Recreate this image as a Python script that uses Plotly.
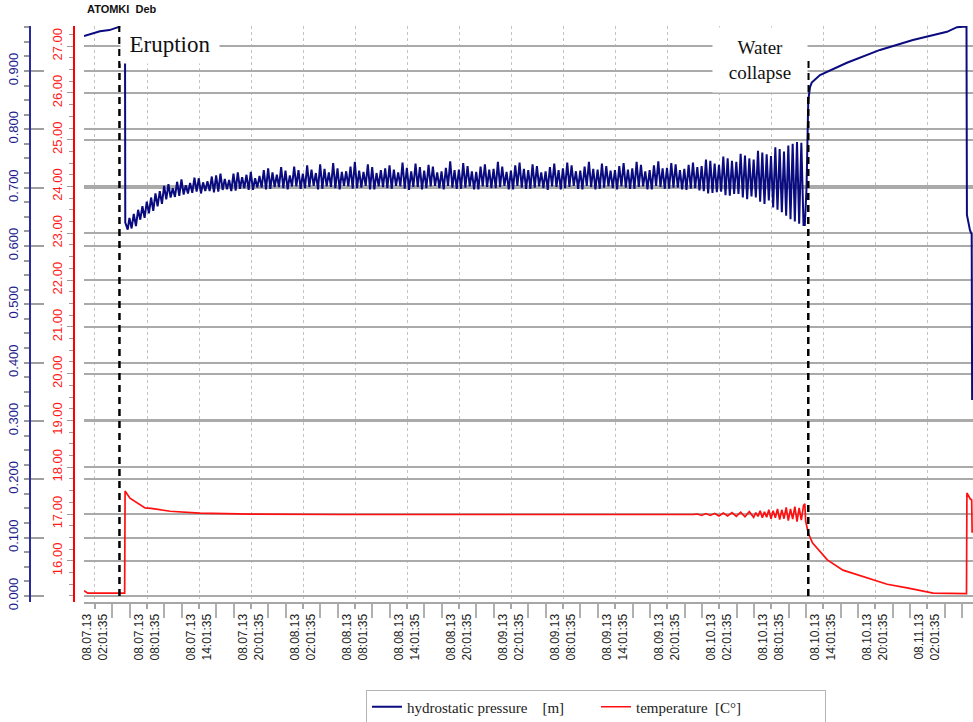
import pandas as pd
import plotly.graph_objects as go

BASE = pd.Timestamp("2013-08-07 00:00:00")


def ts(hours):
    return [(BASE + pd.Timedelta(hours=h)).strftime("%Y-%m-%d %H:%M:%S") for h in hours]


# ---------------- hydrostatic pressure [m] (hours after 2013-08-07 00:00) ----------------
p_pre_t = [0.76, 1.5, 2.6, 3.7, 4.7, 5.40, 5.49, 5.52, 5.8]
p_pre_v = [0.960, 0.963, 0.968, 0.970, 0.975, 0.976, 0.976, 0.640, 0.628]

# noisy plateau, four read extremes per hour: peak (h), trough (h+.25), peak (h+.5), trough (h+.75)
p_noise_hours = list(range(6, 84))
p_noise_hi_a = [
    0.648, 0.662, 0.676, 0.690, 0.703, 0.699, 0.714, 0.708, 0.716, 0.711,
    0.721, 0.715, 0.724, 0.718, 0.727, 0.720, 0.733, 0.722, 0.729, 0.736,
    0.724, 0.731, 0.740, 0.726, 0.733, 0.728, 0.744, 0.727, 0.735, 0.730,
    0.738, 0.726, 0.734, 0.741, 0.729, 0.736, 0.728, 0.745, 0.731, 0.737,
    0.727, 0.740, 0.732, 0.736, 0.729, 0.743, 0.730, 0.737, 0.728, 0.741,
    0.733, 0.738, 0.729, 0.744, 0.731, 0.737, 0.730, 0.742, 0.733, 0.739,
    0.730, 0.745, 0.734, 0.740, 0.732, 0.743, 0.737, 0.746, 0.739, 0.750,
    0.744, 0.755, 0.748, 0.760, 0.754, 0.766, 0.772, 0.778,
]
p_noise_lo_a = [
    0.630, 0.645, 0.656, 0.668, 0.680, 0.684, 0.688, 0.691, 0.690, 0.694,
    0.693, 0.697, 0.695, 0.699, 0.696, 0.700, 0.698, 0.701, 0.697, 0.702,
    0.699, 0.703, 0.698, 0.701, 0.697, 0.702, 0.699, 0.703, 0.697, 0.701,
    0.698, 0.702, 0.696, 0.701, 0.699, 0.703, 0.697, 0.700, 0.698, 0.702,
    0.697, 0.701, 0.699, 0.703, 0.697, 0.700, 0.698, 0.702, 0.696, 0.701,
    0.699, 0.703, 0.697, 0.701, 0.698, 0.702, 0.697, 0.700, 0.698, 0.702,
    0.697, 0.701, 0.698, 0.700, 0.696, 0.699, 0.694, 0.691, 0.693, 0.686,
    0.689, 0.680, 0.683, 0.672, 0.666, 0.658, 0.646, 0.638,
]
p_noise_hi_b = [
    0.655, 0.668, 0.683, 0.694, 0.706, 0.710, 0.704, 0.717, 0.709, 0.719,
    0.724, 0.713, 0.726, 0.722, 0.716, 0.730, 0.726, 0.735, 0.721, 0.730,
    0.738, 0.725, 0.732, 0.742, 0.727, 0.736, 0.729, 0.740, 0.725, 0.733,
    0.731, 0.743, 0.728, 0.735, 0.739, 0.726, 0.734, 0.730, 0.742, 0.728,
    0.736, 0.731, 0.744, 0.727, 0.738, 0.732, 0.740, 0.726, 0.735, 0.730,
    0.743, 0.728, 0.736, 0.732, 0.741, 0.729, 0.737, 0.731, 0.744, 0.728,
    0.738, 0.733, 0.742, 0.730, 0.739, 0.735, 0.748, 0.741, 0.753, 0.746,
    0.758, 0.750, 0.763, 0.757, 0.769, 0.762, 0.775, 0.777,
]
p_noise_lo_b = [
    0.634, 0.648, 0.660, 0.672, 0.683, 0.686, 0.690, 0.693, 0.694, 0.692,
    0.696, 0.694, 0.698, 0.696, 0.700, 0.697, 0.701, 0.699, 0.702, 0.698,
    0.701, 0.697, 0.702, 0.699, 0.703, 0.698, 0.700, 0.697, 0.702, 0.699,
    0.703, 0.698, 0.701, 0.697, 0.702, 0.699, 0.703, 0.698, 0.700, 0.697,
    0.702, 0.699, 0.701, 0.697, 0.703, 0.698, 0.700, 0.699, 0.702, 0.697,
    0.701, 0.698, 0.703, 0.697, 0.700, 0.699, 0.702, 0.698, 0.701, 0.697,
    0.703, 0.698, 0.700, 0.697, 0.698, 0.695, 0.690, 0.692, 0.687, 0.689,
    0.683, 0.685, 0.676, 0.678, 0.662, 0.652, 0.642, 0.636,
]

p_post_t = [83.9, 84.1, 84.3, 84.5, 84.7, 85.65, 88.76, 92.57, 96.37, 100.3,
            101.45, 102.55, 102.6, 102.95, 103.15, 103.2]
p_post_v = [0.636, 0.700, 0.850, 0.872, 0.880, 0.893, 0.914, 0.936, 0.953, 0.967,
            0.975, 0.976, 0.653, 0.627, 0.620, 0.336]

# ---------------- temperature [C°] ----------------
temp_t = [0.76, 1.2, 5.45, 5.50, 6.06, 7.2, 7.8, 8.5, 10.7, 14.1,
          20, 30, 40, 50, 60, 70,
          71, 71.5, 72, 72.5, 73, 73.5, 74, 74.5, 75,
          75.5, 76, 76.5, 77, 77.5, 78, 78.25, 78.5, 78.75, 79, 79.25, 79.5, 79.75, 80,
          80.25, 80.5, 80.75, 81, 81.25, 81.5, 81.75, 82, 82.25, 82.5, 82.75, 83,
          83.25, 83.5, 83.75, 83.9, 84.0, 84.3,
          84.8, 86.5, 88.3, 91.1, 93.4, 95.7, 98.7, 102.55, 102.6, 103.0,
          103.15, 103.2]
temp_v = [15.36, 15.31, 15.31, 17.49, 17.34, 17.19, 17.13, 17.12, 17.06, 17.02,
          17.00, 16.99, 16.99, 16.98, 16.99, 16.98,
          16.99, 17.00, 16.97, 17.01, 16.97, 17.01, 16.96, 17.02, 16.96,
          17.03, 16.95, 17.04, 16.94, 17.05, 16.93, 17.03, 16.95, 17.07, 16.92,
          17.05, 16.93, 17.09, 16.90,
          17.07, 16.92, 17.11, 16.88, 17.09, 16.90, 17.14, 16.86, 17.11, 16.89,
          17.16, 16.84, 17.13, 16.87, 17.18, 17.22, 16.85, 16.59,
          16.38, 16.02, 15.80, 15.63, 15.50, 15.42, 15.31, 15.30, 17.45, 17.32,
          17.30, 16.60]

# event markers (hours after 2013-08-07 00:00)
event_names = ["Eruption", "Water<br>collapse"]
event_hours = [4.85, 84.30]

pressure_name = "hydrostatic pressure\u00a0\u00a0\u00a0\u00a0[m]"
temperature_name = "temperature\u00a0\u00a0[C°]"

# ---------------- assemble series ----------------
p_t = list(p_pre_t)
p_v = list(p_pre_v)
for h, ha, la, hb, lb in zip(p_noise_hours, p_noise_hi_a, p_noise_lo_a,
                             p_noise_hi_b, p_noise_lo_b):
    p_t += [h, h + 0.25, h + 0.5, h + 0.75]
    p_v += [ha, la, hb, lb]
p_t += p_post_t
p_v += p_post_v

fig = go.Figure()
fig.add_trace(go.Scatter(
    x=ts(p_t), y=p_v, mode="lines", name=pressure_name,
    line=dict(color="#0b0b80", width=2.0), yaxis="y",
))
fig.add_trace(go.Scatter(
    x=ts(temp_t), y=temp_v, mode="lines", name=temperature_name,
    line=dict(color="#ff1010", width=1.7), yaxis="y2",
))

# geometry in page pixels
W, H = 973, 722
L_PLOT = 84
TOP, BOT = 26, 602
ph = BOT - TOP


def py(y_page):
    return (BOT - y_page) / ph


def px(x_page):
    return x_page / W


# dashed event lines
ev_top = [py(26), py(56)]
for h, top in zip(event_hours, ev_top):
    fig.add_shape(type="line", xref="x", yref="paper",
                  x0=ts([h])[0], x1=ts([h])[0], y0=py(596), y1=top,
                  line=dict(color="black", width=2.5, dash="7px,5px"))

# event labels
fig.add_annotation(x=ts([10.68])[0], xref="x", y=py(44.5), yref="paper",
                   xanchor="center", yanchor="middle",
                   text=event_names[0], showarrow=False, bgcolor="white",
                   width=98, height=37, borderpad=0,
                   font=dict(family="Liberation Serif", size=23, color="#111"))
fig.add_annotation(x=ts([78.73])[0], xref="x", y=py(60), yref="paper",
                   xanchor="center", yanchor="middle",
                   text=event_names[1], showarrow=False, bgcolor="white",
                   width=94, height=64, borderpad=0,
                   font=dict(family="Liberation Serif", size=19, color="#111"))

tick0 = "2013-08-07 02:01:35"
fig.update_layout(
    width=W, height=H,
    margin=dict(l=0, r=0, t=TOP, b=H - BOT, autoexpand=False),
    paper_bgcolor="white", plot_bgcolor="white",
    title=dict(text="<b>ATOMKI\u00a0\u00a0Deb</b>", x=px(87), xanchor="left",
               xref="container", y=1 - 9 / H, yanchor="middle",
               font=dict(family="Arial", size=11, color="#111")),
    showlegend=True,
    legend=dict(orientation="h", x=px(366), xanchor="left",
                y=py(707), yanchor="middle", bordercolor="#b4b4b4", borderwidth=1,
                bgcolor="white", itemwidth=30, entrywidth=184,
                font=dict(family="Liberation Serif", size=15, color="#222")),
    xaxis=dict(
        domain=[L_PLOT / W, 1], type="date", anchor="y", automargin=False,
        range=ts([0.76, 103.3]),
        tick0=tick0, dtick=6 * 3600 * 1000,
        tickformat="%m.%d.%y<br>%H:%M:%S", tickangle=-90,
        tickfont=dict(family="Arial", size=12, color="#222"),
        showgrid=True, gridcolor="#c4c4c4", griddash="dot", gridwidth=1,
        showline=True, linecolor="#a6a6a6", linewidth=2,
        ticks="outside", ticklen=5, tickcolor="#a6a6a6", tickwidth=1.5,
        minor=dict(tick0=tick0, dtick=2 * 3600 * 1000, ticks="outside",
                   ticklen=14, tickcolor="#b0b0b0", tickwidth=1.5, showgrid=False),
        zeroline=False,
    ),
    yaxis=dict(
        range=[-0.0103, 0.977], anchor="free", position=px(30), side="left",
        automargin=False,
        tick0=0, dtick=0.1, tickformat=".3f", tickangle=-90,
        tickfont=dict(family="Arial", size=13, color="#1c1c8c"),
        showline=True, linecolor="#2a2aa0", linewidth=2,
        ticks="inside", ticklen=13, tickcolor="#a0a0a0", tickwidth=1.5,
        ticklabelstandoff=6,
        minor=dict(dtick=0.025, ticks="outside", ticklen=5, tickcolor="#999"),
        showgrid=True, gridcolor="#aaaaaa", gridwidth=1.5, zeroline=False,
    ),
    yaxis2=dict(
        range=[15.12, 27.43], overlaying="y", anchor="free", position=px(74),
        side="left", automargin=False,
        tick0=0, dtick=1, tickformat=".2f", tickangle=-90,
        tickfont=dict(family="Arial", size=13, color="#ff1a1a"),
        showline=True, linecolor="#ff0000", linewidth=2,
        ticks="outside", ticklen=6, tickcolor="#999",
        minor=dict(dtick=0.25, ticks="outside", ticklen=4, tickcolor="#999"),
        showgrid=True, gridcolor="#aaaaaa", gridwidth=1.5, zeroline=False,
    ),
)

# the page's default 8px body margin would shift the figure; remove it
fig.write_html("out.html",
               config={"displayModeBar": False},
               post_script="document.body.style.margin='0';"
                           "document.body.style.overflow='hidden';")
